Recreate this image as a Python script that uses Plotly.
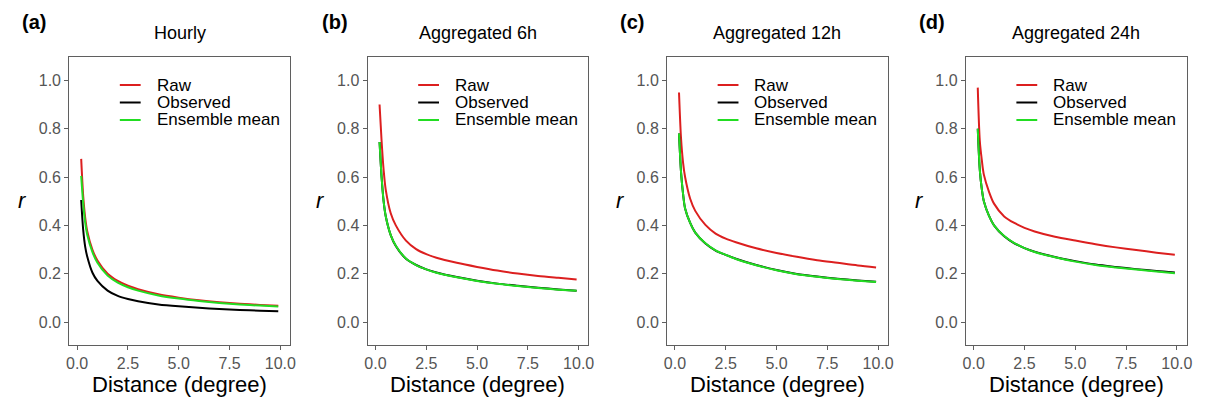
import plotly.graph_objects as go

# ---------------- data ----------------
distance = [0.2, 0.3, 0.4, 0.5, 0.75, 1.0, 1.5, 2.0, 2.5, 3.0, 4.0, 5.0, 6.0, 7.0, 8.0, 9.0, 9.9]

panel_titles = ["Hourly", "Aggregated 6h", "Aggregated 12h", "Aggregated 24h"]
panel_labels = ["(a)", "(b)", "(c)", "(d)"]
series_names = ["Raw", "Observed", "Ensemble mean"]

raw_hourly = [0.675, 0.52, 0.43, 0.375, 0.30, 0.255, 0.200, 0.170, 0.150, 0.136, 0.115, 0.101, 0.090, 0.082, 0.076, 0.071, 0.067]
obs_hourly = [0.505, 0.38, 0.31, 0.27, 0.205, 0.170, 0.130, 0.108, 0.095, 0.086, 0.073, 0.065, 0.059, 0.054, 0.050, 0.047, 0.045]
ens_hourly = [0.605, 0.49, 0.41, 0.36, 0.29, 0.245, 0.192, 0.163, 0.144, 0.130, 0.110, 0.097, 0.087, 0.079, 0.073, 0.068, 0.064]

raw_6h = [0.90, 0.75, 0.63, 0.55, 0.45, 0.40, 0.337, 0.302, 0.281, 0.266, 0.245, 0.228, 0.213, 0.201, 0.191, 0.183, 0.176]
obs_6h = [0.745, 0.60, 0.50, 0.44, 0.36, 0.315, 0.262, 0.236, 0.218, 0.205, 0.186, 0.171, 0.159, 0.150, 0.142, 0.135, 0.130]
ens_6h = [0.745, 0.60, 0.50, 0.44, 0.36, 0.316, 0.263, 0.236, 0.218, 0.204, 0.185, 0.170, 0.158, 0.149, 0.141, 0.134, 0.129]

raw_12h = [0.95, 0.76, 0.66, 0.60, 0.51, 0.46, 0.402, 0.366, 0.345, 0.330, 0.305, 0.286, 0.270, 0.256, 0.245, 0.234, 0.226]
obs_12h = [0.78, 0.62, 0.53, 0.47, 0.41, 0.37, 0.325, 0.296, 0.278, 0.262, 0.236, 0.215, 0.199, 0.188, 0.179, 0.172, 0.167]
ens_12h = [0.78, 0.62, 0.53, 0.47, 0.41, 0.37, 0.326, 0.297, 0.278, 0.261, 0.235, 0.214, 0.198, 0.187, 0.178, 0.171, 0.166]

raw_24h = [0.97, 0.75, 0.67, 0.61, 0.54, 0.49, 0.437, 0.410, 0.390, 0.375, 0.353, 0.337, 0.322, 0.309, 0.298, 0.287, 0.278]
obs_24h = [0.80, 0.63, 0.55, 0.50, 0.44, 0.40, 0.355, 0.326, 0.306, 0.291, 0.269, 0.252, 0.238, 0.228, 0.219, 0.211, 0.205]
ens_24h = [0.80, 0.63, 0.55, 0.50, 0.44, 0.40, 0.356, 0.327, 0.306, 0.290, 0.268, 0.250, 0.236, 0.226, 0.217, 0.209, 0.202]

x_tick_vals = [0, 2.5, 5, 7.5, 10]
x_tick_text = ["0.0", "2.5", "5.0", "7.5", "10.0"]
y_tick_vals = [0, 0.2, 0.4, 0.6, 0.8, 1.0]
y_tick_text = ["0.0", "0.2", "0.4", "0.6", "0.8", "1.0"]

panels = [
    [raw_hourly, obs_hourly, ens_hourly],
    [raw_6h, obs_6h, ens_6h],
    [raw_12h, obs_12h, ens_12h],
    [raw_24h, obs_24h, ens_24h],
]

# ---------------- styling ----------------
W, H = 1208, 403
FONT = "Liberation Sans, Arial, sans-serif"
colors = {"Raw": "#dc1f1f", "Observed": "#000000", "Ensemble mean": "#22dd22"}
draw_order = ["Raw", "Observed", "Ensemble mean"]
frame_left = [66.7, 367.3, 669.0, 970.0]
frame_w = 222.5
frame_top, frame_bottom = 56.7, 345.0
label_cx = [31, 334, 634, 936]


def px(xp):
    return xp / W


def py(yp):
    return 1 - yp / H


fig = go.Figure()
annotations = []
shapes = []

for i in range(4):
    ax = "" if i == 0 else str(i + 1)
    series = dict(zip(series_names, panels[i]))
    for name in draw_order:
        fig.add_trace(go.Scatter(
            x=distance, y=series[name], mode="lines", name=name,
            line=dict(color=colors[name], width=2, shape="spline", smoothing=0.8),
            xaxis="x" + ax, yaxis="y" + ax, showlegend=False,
        ))

    L = frame_left[i]
    axis_common = dict(
        showline=True, linecolor="#5f5f5f", linewidth=1, mirror=True,
        ticks="outside", ticklen=4, tickwidth=1, tickcolor="#5f5f5f",
        showgrid=False, zeroline=False,
        tickfont=dict(family=FONT, size=16, color="#555555"),
    )
    fig.layout["xaxis" + ax] = dict(
        domain=[px(L), px(L + frame_w)], anchor="y" + ax,
        range=[-0.39, 10.48], tickvals=x_tick_vals, ticktext=x_tick_text,
        **axis_common,
    )
    fig.layout["yaxis" + ax] = dict(
        domain=[py(frame_bottom), py(frame_top)], anchor="x" + ax,
        range=[-0.095, 1.098], tickvals=y_tick_vals, ticktext=y_tick_text,
        **axis_common,
    )

    cx = L + frame_w / 2
    # panel title
    annotations.append(dict(x=px(cx), y=py(33), xref="paper", yref="paper",
                            text=panel_titles[i], showarrow=False,
                            xanchor="center", yanchor="middle",
                            font=dict(family=FONT, size=18, color="#000000")))
    # panel label
    annotations.append(dict(x=px(label_cx[i]), y=py(22), xref="paper", yref="paper",
                            text="<b>" + panel_labels[i] + "</b>", showarrow=False,
                            xanchor="center", yanchor="middle",
                            font=dict(family=FONT, size=20, color="#000000")))
    # x-axis title
    annotations.append(dict(x=px(cx), y=py(384), xref="paper", yref="paper",
                            text="Distance (degree)", showarrow=False,
                            xanchor="center", yanchor="middle",
                            font=dict(family=FONT, size=22, color="#000000")))
    # y-axis title
    annotations.append(dict(x=px(L - 47), y=py(201), xref="paper", yref="paper",
                            text="<i>r</i>", showarrow=False,
                            xanchor="center", yanchor="middle",
                            font=dict(family=FONT, size=22, color="#000000")))
    # legend
    for k, name in enumerate(series_names):
        ry = 85 + k * 17.5
        shapes.append(dict(type="line", xref="paper", yref="paper",
                           x0=px(L + 51), x1=px(L + 72), y0=py(ry), y1=py(ry),
                           line=dict(color=colors[name], width=2)))
        annotations.append(dict(x=px(L + 86), y=py(ry), xref="paper", yref="paper",
                                text=name, showarrow=False,
                                xanchor="left", yanchor="middle",
                                font=dict(family=FONT, size=17, color="#000000")))

fig.update_layout(
    width=W, height=H, margin=dict(l=0, r=0, t=0, b=0),
    paper_bgcolor="white", plot_bgcolor="white",
    annotations=annotations, shapes=shapes, showlegend=False,
    font=dict(family=FONT),
)

fig.write_html("out.html")
